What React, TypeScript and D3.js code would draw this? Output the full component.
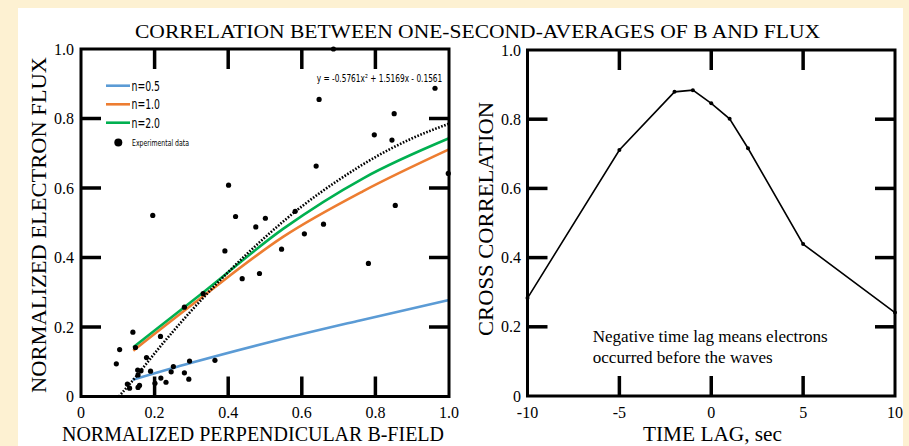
import React from "react";
import * as d3 from "d3";

// ---------- DATA ----------
// Left panel: experimental scatter points (normalized B-field vs normalized flux)
const scatterX = [0.686, 0.962, 0.647, 0.851, 0.797, 0.845, 0.639, 0.998, 0.401, 0.854, 0.195, 0.42, 0.501, 0.582, 0.659, 0.475, 0.607, 0.545, 0.391, 0.781, 0.438, 0.485, 0.332, 0.281, 0.141, 0.216, 0.105, 0.148, 0.178, 0.096, 0.364, 0.295, 0.251, 0.245, 0.189, 0.154, 0.163, 0.155, 0.281, 0.217, 0.293, 0.231, 0.201, 0.126, 0.132, 0.155, 0.159];
const scatterY = [1.0, 0.887, 0.855, 0.814, 0.753, 0.738, 0.663, 0.642, 0.608, 0.55, 0.521, 0.518, 0.513, 0.533, 0.496, 0.488, 0.468, 0.424, 0.419, 0.383, 0.339, 0.354, 0.296, 0.257, 0.185, 0.173, 0.135, 0.141, 0.112, 0.094, 0.104, 0.102, 0.086, 0.071, 0.073, 0.076, 0.074, 0.062, 0.068, 0.053, 0.05, 0.041, 0.038, 0.036, 0.024, 0.026, 0.032];

// Model curves
const n05X = [0.14, 0.3, 0.514, 0.758, 1.0];
const n05Y = [0.048, 0.097, 0.157, 0.219, 0.278];
const n10X = [0.142, 0.33, 0.55, 0.767, 1.0];
const n10Y = [0.132, 0.287, 0.46, 0.591, 0.711];
const n20X = [0.142, 0.33, 0.55, 0.767, 1.0];
const n20Y = [0.142, 0.298, 0.483, 0.628, 0.743];

// Polynomial trendline
const trendX = [0.103, 0.15, 0.2, 0.3, 0.4, 0.5, 0.6, 0.7, 0.8, 0.9, 1.0];
const trendY = [0.0, 0.058, 0.124, 0.247, 0.358, 0.458, 0.547, 0.623, 0.689, 0.743, 0.785];

// Right panel: cross correlation vs time lag
const lagX = [-10, -5, -2, -1, 0, 1, 2, 5, 10];
const corrY = [0.283, 0.711, 0.879, 0.884, 0.846, 0.801, 0.716, 0.439, 0.241];

// Tick values / labels
const leftXTicks = [0, 0.2, 0.4, 0.6, 0.8, 1.0];
const leftXLabels = ["0", "0.2", "0.4", "0.6", "0.8", "1.0"];
const yTicks = [0, 0.2, 0.4, 0.6, 0.8, 1.0];
const yLabels = ["0", "0.2", "0.4", "0.6", "0.8", "1.0"];
const lagTicks = [-10, -5, 0, 5, 10];
const lagLabels = ["-10", "-5", "0", "5", "10"];

const legendLabels = ["n=0.5", "n=1.0", "n=2.0"];
const legendColors = ["#5B9BD5", "#ED7D31", "#00B050"];

const SERIF = "'Liberation Serif', 'Times New Roman', serif";
const NARROW = "'Liberation Sans Narrow', 'DejaVu Sans Condensed', 'Roboto Condensed', 'Liberation Sans', sans-serif";

export default function App() {
  const W = 909, H = 446;
  // left panel scales
  const lx = d3.scaleLinear().domain([0, 1]).range([81, 449]);
  const ly = d3.scaleLinear().domain([0, 1]).range([396.5, 49]);
  // right panel scales
  const rx = d3.scaleLinear().domain([-10, 10]).range([527.5, 895]);
  const ry = d3.scaleLinear().domain([0, 1]).range([396, 50]);

  const mkLine = (xs: number[], ys: number[], sx: any, sy: any, curve: any) =>
    d3.line<number>().x((_, i) => sx(xs[i])).y((_, i) => sy(ys[i])).curve(curve)(xs.map((_, i) => i)) || "";

  const curves = [
    { xs: n05X, ys: n05Y, c: legendColors[0] },
    { xs: n10X, ys: n10Y, c: legendColors[1] },
    { xs: n20X, ys: n20Y, c: legendColors[2] },
  ];

  const TL = 20; // tick length
  const tickW = 3.5;

  const frame = (x0: number, x1: number, y0: number, y1: number) => (
    <rect x={x0} y={y0} width={x1 - x0} height={y1 - y0} fill="none" stroke="#000" strokeWidth={3} />
  );

  return (
    <svg width={W} height={H} style={{ position: "absolute", left: 0, top: 0 }} xmlns="http://www.w3.org/2000/svg">
      <rect x={0} y={0} width={W} height={H} fill="#FDF1D2" />
      <rect x={18} y={8} width={885} height={438} fill="#FFFFFF" />

      {/* Title */}
      <text x={477.5} y={38} textAnchor="middle" fontFamily={SERIF} fontSize={19} textLength={685} lengthAdjust="spacingAndGlyphs" fill="#000">
        CORRELATION BETWEEN ONE-SECOND-AVERAGES OF B AND FLUX
      </text>

      {/* ---------- LEFT PANEL ---------- */}
      {curves.map((cv, i) => (
        <path key={"cv" + i} d={mkLine(cv.xs, cv.ys, lx, ly, d3.curveMonotoneX)} fill="none" stroke={cv.c} strokeWidth={2.6} />
      ))}
      <path d={mkLine(trendX, trendY, lx, ly, d3.curveMonotoneX)} fill="none" stroke="#000" strokeWidth={2.6} strokeDasharray="1.6 1.6" />
      {scatterX.map((x, i) => (
        <circle key={"p" + i} cx={lx(x)} cy={ly(scatterY[i])} r={2.6} fill="#000" />
      ))}

      {frame(lx(0), lx(1), ly(1), ly(0))}
      {leftXTicks.slice(1, -1).map((t, i) => (
        <g key={"lxt" + i}>
          <line x1={lx(t)} x2={lx(t)} y1={ly(0)} y2={ly(0) - TL} stroke="#000" strokeWidth={tickW} />
          <line x1={lx(t)} x2={lx(t)} y1={ly(1)} y2={ly(1) + TL} stroke="#000" strokeWidth={tickW} />
        </g>
      ))}
      {yTicks.slice(1, -1).map((t, i) => (
        <g key={"lyt" + i}>
          <line x1={lx(0)} x2={lx(0) + TL} y1={ly(t)} y2={ly(t)} stroke="#000" strokeWidth={tickW} />
          <line x1={lx(1)} x2={lx(1) - TL} y1={ly(t)} y2={ly(t)} stroke="#000" strokeWidth={tickW} />
        </g>
      ))}
      {leftXTicks.map((t, i) => (
        <text key={"lxl" + i} x={lx(t)} y={418} textAnchor="middle" fontFamily={SERIF} fontSize={16} fill="#000">
          {leftXLabels[i]}
        </text>
      ))}
      {yTicks.map((t, i) => (
        <text key={"lyl" + i} x={74} y={ly(t) + 5.5} textAnchor="end" fontFamily={SERIF} fontSize={16} fill="#000">
          {yLabels[i]}
        </text>
      ))}
      <text x={253} y={441} textAnchor="middle" fontFamily={SERIF} fontSize={21} textLength={382} lengthAdjust="spacingAndGlyphs" fill="#000">
        NORMALIZED PERPENDICULAR B-FIELD
      </text>
      <text transform="translate(45.5,225) rotate(-90)" textAnchor="middle" fontFamily={SERIF} fontSize={21} textLength={336} lengthAdjust="spacingAndGlyphs" fill="#000">
        NORMALIZED ELECTRON FLUX
      </text>

      {/* legend */}
      {legendLabels.map((lab, i) => {
        const yy = [85.7, 104.3, 122.7][i];
        return (
          <g key={"lg" + i}>
            <line x1={106} x2={130} y1={yy} y2={yy} stroke={legendColors[i]} strokeWidth={2.6} />
            <text x={131.5} y={yy + 4.8} fontFamily={NARROW} fontSize={13.5} textLength={28.5} lengthAdjust="spacingAndGlyphs" fill="#000">
              {lab}
            </text>
          </g>
        );
      })}
      <circle cx={118.3} cy={142.5} r={4} fill="#000" />
      <text x={132} y={145.5} fontFamily={NARROW} fontSize={9} textLength={57} lengthAdjust="spacingAndGlyphs" fill="#000">
        Experimental data
      </text>
      <text x={316.7} y={81.8} fontFamily={NARROW} fontSize={10} textLength={125.6} lengthAdjust="spacingAndGlyphs" fill="#000">
        y = -0.5761x² + 1.5169x - 0.1561
      </text>

      {/* ---------- RIGHT PANEL ---------- */}
      <path d={mkLine(lagX, corrY, rx, ry, d3.curveLinear)} fill="none" stroke="#000" strokeWidth={1.6} />
      {lagX.map((x, i) => (
        <circle key={"c" + i} cx={rx(x)} cy={ry(corrY[i])} r={2} fill="#000" />
      ))}
      {frame(rx(-10), rx(10), ry(1), ry(0))}
      {lagTicks.slice(1, -1).map((t, i) => (
        <g key={"rxt" + i}>
          <line x1={rx(t)} x2={rx(t)} y1={ry(0)} y2={ry(0) - TL} stroke="#000" strokeWidth={tickW} />
          <line x1={rx(t)} x2={rx(t)} y1={ry(1)} y2={ry(1) + TL} stroke="#000" strokeWidth={tickW} />
        </g>
      ))}
      {yTicks.slice(1, -1).map((t, i) => (
        <g key={"ryt" + i}>
          <line x1={rx(-10)} x2={rx(-10) + TL} y1={ry(t)} y2={ry(t)} stroke="#000" strokeWidth={tickW} />
          <line x1={rx(10)} x2={rx(10) - TL} y1={ry(t)} y2={ry(t)} stroke="#000" strokeWidth={tickW} />
        </g>
      ))}
      {lagTicks.map((t, i) => (
        <text key={"rxl" + i} x={rx(t)} y={418} textAnchor="middle" fontFamily={SERIF} fontSize={16} fill="#000">
          {lagLabels[i]}
        </text>
      ))}
      {yTicks.map((t, i) => (
        <text key={"ryl" + i} x={521} y={ry(t) + 5.5} textAnchor="end" fontFamily={SERIF} fontSize={16} fill="#000">
          {yLabels[i]}
        </text>
      ))}
      <text x={712.5} y={441} textAnchor="middle" fontFamily={SERIF} fontSize={21} textLength={139} lengthAdjust="spacingAndGlyphs" fill="#000">
        TIME LAG, sec
      </text>
      <text transform="translate(493,219) rotate(-90)" textAnchor="middle" fontFamily={SERIF} fontSize={21} textLength={234} lengthAdjust="spacingAndGlyphs" fill="#000">
        CROSS CORRELATION
      </text>
      <text x={592.7} y={342} fontFamily={SERIF} fontSize={16} textLength={235} lengthAdjust="spacingAndGlyphs" fill="#000">
        Negative time lag means electrons
      </text>
      <text x={592.7} y={362.5} fontFamily={SERIF} fontSize={16} textLength={180} lengthAdjust="spacingAndGlyphs" fill="#000">
        occurred before the waves
      </text>
    </svg>
  );
}
